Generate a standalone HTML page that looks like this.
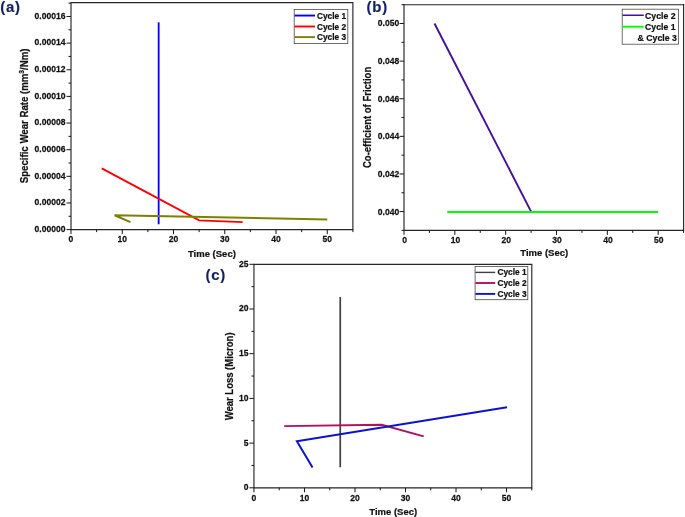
<!DOCTYPE html>
<html lang="en">
<head>
<meta charset="utf-8">
<title>Wear test results</title>
<style>
html,body{margin:0;padding:0;background:#fff;}
body{width:685px;height:517px;overflow:hidden;}
svg{display:block;}
svg text{stroke:#111;stroke-width:.22px;}
svg text.pl{stroke:#12225f;stroke-width:.15px;}
</style>
</head>
<body>
<svg width="685" height="517" viewBox="0 0 685 517" font-family='"Liberation Sans", sans-serif' font-weight="bold" fill="#111">
<rect width="685" height="517" fill="#fff"/>
<g id="chart-a">
<path d="M71 2.03V230.17M352.9 2.03V230.17M71 2.6H352.9M71 229.6H352.9" fill="none" stroke="#262626" stroke-width="1.15"/>
<path d="M71 229.6v4.5M96.63 229.6v2.5M122.25 229.6v4.5M147.88 229.6v2.5M173.51 229.6v4.5M199.14 229.6v2.5M224.76 229.6v4.5M250.39 229.6v2.5M276.02 229.6v4.5M301.65 229.6v2.5M327.27 229.6v4.5M352.9 229.6v2.5M71 229.6h-4.5M71 216.28h-2.5M71 202.96h-4.5M71 189.64h-2.5M71 176.32h-4.5M71 163h-2.5M71 149.68h-4.5M71 136.36h-2.5M71 123.04h-4.5M71 109.72h-2.5M71 96.4h-4.5M71 83.08h-2.5M71 69.76h-4.5M71 56.44h-2.5M71 43.12h-4.5M71 29.8h-2.5M71 16.48h-4.5M71 3.16h-2.5" stroke="#161616" stroke-width="1" fill="none"/>
<g font-size="8.55" text-anchor="end"><text transform="translate(65.5 231.9) scale(1 1.15)">0.00000</text><text transform="translate(65.5 205.26) scale(1 1.15)">0.00002</text><text transform="translate(65.5 178.62) scale(1 1.15)">0.00004</text><text transform="translate(65.5 151.98) scale(1 1.15)">0.00006</text><text transform="translate(65.5 125.34) scale(1 1.15)">0.00008</text><text transform="translate(65.5 98.7) scale(1 1.15)">0.00010</text><text transform="translate(65.5 72.06) scale(1 1.15)">0.00012</text><text transform="translate(65.5 45.42) scale(1 1.15)">0.00014</text><text transform="translate(65.5 18.78) scale(1 1.15)">0.00016</text></g>
<g font-size="8.55" text-anchor="middle"><text transform="translate(71 242.25) scale(1 1.15)">0</text><text transform="translate(122.25 242.25) scale(1 1.15)">10</text><text transform="translate(173.51 242.25) scale(1 1.15)">20</text><text transform="translate(224.76 242.25) scale(1 1.15)">30</text><text transform="translate(276.02 242.25) scale(1 1.15)">40</text><text transform="translate(327.27 242.25) scale(1 1.15)">50</text></g>
<text transform="translate(211.9 256.6) scale(1 1.0)" font-size="9.5" text-anchor="middle">Time (Sec)</text>
<text transform="translate(28.2 115.9) rotate(-90) scale(1 1.08)" font-size="9.65" text-anchor="middle">Specific Wear Rate (mm<tspan font-size="6.6" dy="-4">3</tspan><tspan dy="4">/Nm)</tspan></text>
<polyline points="158.65,22.34 158.65,224.27" fill="none" stroke="#0000ff" stroke-width="1.8" stroke-linejoin="miter"/>
<polyline points="101.75,168.33 199.14,220.41 242.7,222.14" fill="none" stroke="#ff0000" stroke-width="1.9" stroke-linejoin="miter"/>
<polyline points="130.46,222.14 114.57,215.21 327.27,219.48" fill="none" stroke="#808000" stroke-width="2.0" stroke-linejoin="miter"/>
<rect x="294.2" y="9.4" width="53.6" height="34.2" fill="#fff" stroke="#4a4a4a" stroke-width="0.8"/>
<path d="M294.5 15.55H315" stroke="#0000ff" stroke-width="1.9"/>
<path d="M294.5 26.5H315" stroke="#ff0000" stroke-width="1.9"/>
<path d="M294.5 37.1H315" stroke="#808000" stroke-width="1.9"/>
<g font-size="8.3">
<text x="317" y="18.8">Cycle 1</text>
<text x="317" y="29.7">Cycle 2</text>
<text x="317" y="40.4">Cycle 3</text>
</g>
<text x="0.2" y="12.1" class="pl" font-size="15" letter-spacing="0.7" fill="#12225f">(a)</text>
</g>
<g id="chart-b">
<path d="M404 4.12V230.97M683.6 4.12V230.97M404 4.7H683.6M404 230.4H683.6" fill="none" stroke="#262626" stroke-width="1.15"/>
<path d="M404 230.4v4.5M429.42 230.4v2.5M454.84 230.4v4.5M480.25 230.4v2.5M505.67 230.4v4.5M531.09 230.4v2.5M556.51 230.4v4.5M581.93 230.4v2.5M607.35 230.4v4.5M632.76 230.4v2.5M658.18 230.4v4.5M683.6 230.4v2.5M404 211.59h-4.5M404 192.78h-2.5M404 173.97h-4.5M404 155.16h-2.5M404 136.35h-4.5M404 117.54h-2.5M404 98.73h-4.5M404 79.92h-2.5M404 61.11h-4.5M404 42.3h-2.5M404 23.49h-4.5M404 230.4h-2.5M404 4.68h-2.5" stroke="#161616" stroke-width="1" fill="none"/>
<g font-size="8.55" text-anchor="end"><text transform="translate(399.2 214.59) scale(1 1.15)">0.040</text><text transform="translate(399.2 176.97) scale(1 1.15)">0.042</text><text transform="translate(399.2 139.35) scale(1 1.15)">0.044</text><text transform="translate(399.2 101.73) scale(1 1.15)">0.046</text><text transform="translate(399.2 64.11) scale(1 1.15)">0.048</text><text transform="translate(399.2 26.49) scale(1 1.15)">0.050</text></g>
<g font-size="8.55" text-anchor="middle"><text transform="translate(404.6 242.7) scale(1 1.15)">0</text><text transform="translate(455.44 242.7) scale(1 1.15)">10</text><text transform="translate(506.27 242.7) scale(1 1.15)">20</text><text transform="translate(557.11 242.7) scale(1 1.15)">30</text><text transform="translate(607.95 242.7) scale(1 1.15)">40</text><text transform="translate(658.78 242.7) scale(1 1.15)">50</text></g>
<text transform="translate(544.2 255.9) scale(1 1.0)" font-size="9.5" text-anchor="middle">Time (Sec)</text>
<text transform="translate(370.9 117.4) rotate(-90) scale(1 1.08)" font-size="9.5" text-anchor="middle">Co-efficient of Friction</text>
<polyline points="434.5,23.49 531.09,211.59" fill="none" stroke="#470ca2" stroke-width="1.9" stroke-linejoin="miter"/>
<polyline points="447.21,211.97 658.18,211.97" fill="none" stroke="#00ff00" stroke-width="1.9" stroke-linejoin="miter"/>
<rect x="622.2" y="9.2" width="56.2" height="35" fill="#fff" stroke="#4a4a4a" stroke-width="0.8"/>
<path d="M622.5 15.25H643.8" stroke="#470ca2" stroke-width="1.5"/>
<path d="M622.5 26.7H643.8" stroke="#00ff00" stroke-width="1.9"/>
<g font-size="8.7">
<text x="645.1" y="18.7">Cycle 2</text>
<text x="645.1" y="30">Cycle 1</text>
<text x="637.6" y="41.2">&amp; Cycle 3</text>
</g>
<text x="366.6" y="12.1" class="pl" font-size="15" letter-spacing="0.7" fill="#12225f">(b)</text>
</g>
<g id="chart-c">
<path d="M253.95 263.73V488.38M531.8 263.73V488.38M253.95 264.3H531.8M253.95 487.8H531.8" fill="none" stroke="#262626" stroke-width="1.15"/>
<path d="M253.95 487.8v4.5M279.21 487.8v2.5M304.47 487.8v4.5M329.73 487.8v2.5M354.99 487.8v4.5M380.25 487.8v2.5M405.5 487.8v4.5M430.76 487.8v2.5M456.02 487.8v4.5M481.28 487.8v2.5M506.54 487.8v4.5M531.8 487.8v2.5M253.95 487.8h-4.5M253.95 465.45h-2.5M253.95 443.1h-4.5M253.95 420.75h-2.5M253.95 398.4h-4.5M253.95 376.05h-2.5M253.95 353.7h-4.5M253.95 331.35h-2.5M253.95 309h-4.5M253.95 286.65h-2.5M253.95 264.3h-4.5" stroke="#161616" stroke-width="1" fill="none"/>
<g font-size="8.55" text-anchor="end"><text transform="translate(248.45 490.25) scale(1 1.15)">0</text><text transform="translate(248.45 445.55) scale(1 1.15)">5</text><text transform="translate(248.45 400.85) scale(1 1.15)">10</text><text transform="translate(248.45 356.15) scale(1 1.15)">15</text><text transform="translate(248.45 311.45) scale(1 1.15)">20</text><text transform="translate(248.45 266.75) scale(1 1.15)">25</text></g>
<g font-size="8.55" text-anchor="middle"><text transform="translate(253.95 500.8) scale(1 1.15)">0</text><text transform="translate(304.47 500.8) scale(1 1.15)">10</text><text transform="translate(354.99 500.8) scale(1 1.15)">20</text><text transform="translate(405.5 500.8) scale(1 1.15)">30</text><text transform="translate(456.02 500.8) scale(1 1.15)">40</text><text transform="translate(506.54 500.8) scale(1 1.15)">50</text></g>
<text transform="translate(393.2 515) scale(1 1.0)" font-size="9.5" text-anchor="middle">Time (Sec)</text>
<text transform="translate(233.2 376.4) rotate(-90) scale(1 1.08)" font-size="9.5" text-anchor="middle">Wear Loss (Micron)</text>
<polyline points="340.24,296.93 340.24,467.24" fill="none" stroke="#404040" stroke-width="1.7" stroke-linejoin="miter"/>
<polyline points="284.26,426.11 381.76,424.77 423.69,436.39" fill="none" stroke="#b0105e" stroke-width="1.9" stroke-linejoin="miter"/>
<polyline points="312.55,467.42 296.89,441.31 507.05,407.34" fill="none" stroke="#0a14d0" stroke-width="2.0" stroke-linejoin="miter"/>
<rect x="475.1" y="266.5" width="52.7" height="33.2" fill="#fff" stroke="#4a4a4a" stroke-width="0.8"/>
<path d="M475.4 272.4H495.2" stroke="#404040" stroke-width="1.4"/>
<path d="M475.4 283H495.2" stroke="#b0105e" stroke-width="1.9"/>
<path d="M475.4 293.9H495.2" stroke="#0a14d0" stroke-width="1.9"/>
<g font-size="8.3">
<text x="497.5" y="275.2">Cycle 1</text>
<text x="497.5" y="286">Cycle 2</text>
<text x="497.5" y="296.9">Cycle 3</text>
</g>
<text x="205.6" y="280.2" class="pl" font-size="15" letter-spacing="0.7" fill="#12225f">(c)</text>
</g>
</svg>
</body>
</html>
